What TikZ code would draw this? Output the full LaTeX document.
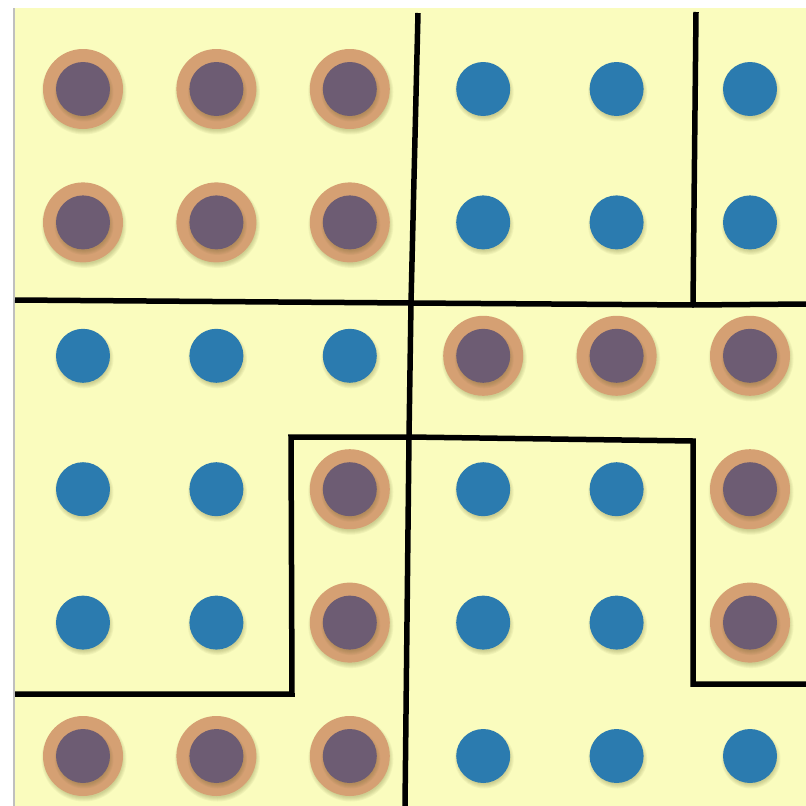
\documentclass[tikz,border=0pt]{standalone}
\definecolor{paper}{HTML}{FAFCBE}
\definecolor{ringtan}{HTML}{D5A073}
\definecolor{plum}{HTML}{6D5C73}
\definecolor{dotblue}{HTML}{2B7BAF}
\definecolor{shadowcol}{HTML}{5A5A20}
\tikzset{
  bluedot/.style={circle,fill=dotblue,minimum size=54pt,inner sep=0pt},
  ringdot/.style={circle,fill=ringtan,minimum size=80pt,inner sep=0pt},
  plumdot/.style={circle,fill=plum,minimum size=54pt,inner sep=0pt},
  softshadow/.style={fill=shadowcol,opacity=0.06},
  wall/.style={line width=5.5pt,black,line join=miter}
}
\newcommand{\softshd}[3]{%
  \foreach \k in {0,1,2,3,4}{
    \fill[softshadow] (#1+1,#2+3) circle[radius=#3+2.5-\k];
  }%
}
\begin{document}
\begin{tikzpicture}[x=1pt,y=-1pt]
\useasboundingbox (0,0) rectangle (806,806);
\fill[white] (0,0) rectangle (806,806);
\fill[black!25] (13,8) rectangle (16,806);
\fill[paper] (15,8) rectangle (806,806);
% blue dots
\foreach \c/\r [count=\i] in {4/1,5/1,6/1,4/2,5/2,6/2,1/3,2/3,3/3,1/4,2/4,4/4,5/4,1/5,2/5,4/5,5/5,4/6,5/6,6/6}{
  \pgfmathsetmacro{\xx}{83+133.4*(\c-1)}
  \pgfmathsetmacro{\yy}{89+133.4*(\r-1)}
  \softshd{\xx}{\yy}{27}
  \node[bluedot] (b\i) at (\xx,\yy) {};
}
% ringed dots
\foreach \c/\r [count=\i] in {1/1,2/1,3/1,1/2,2/2,3/2,4/3,5/3,6/3,3/4,6/4,3/5,6/5,1/6,2/6,3/6}{
  \pgfmathsetmacro{\xx}{83+133.4*(\c-1)}
  \pgfmathsetmacro{\yy}{89+133.4*(\r-1)}
  \softshd{\xx}{\yy}{40}
  \node[ringdot] (r\i) at (\xx,\yy) {};
  \softshd{\xx}{\yy}{27}
  \node[plumdot] (p\i) at (\xx,\yy) {};
}
% walls
\coordinate (v1) at (418,13);
\coordinate (v2) at (411,303);
\coordinate (v3) at (409,437);
\coordinate (v4) at (405,806);
\coordinate (w1) at (696,12);
\coordinate (w2) at (693,305);
\coordinate (h1) at (15,300);
\coordinate (h2) at (806,304);
\coordinate (s1) at (15,694);
\coordinate (s2) at (292,694);
\coordinate (s3) at (291,437);
\coordinate (s4) at (693,441);
\coordinate (s5) at (693,684);
\coordinate (s6) at (806,684);
\draw[wall] (v1) -- (v2) -- (v3) -- (v4);
\draw[wall] (w1) -- (w2);
\draw[wall] (h1) -- (v2) -- (w2) -- (h2);
\draw[wall] (s1) -- (s2) -- (s3) -- (v3) -- (s4) -- (s5) -- (s6);
\end{tikzpicture}
\end{document}
